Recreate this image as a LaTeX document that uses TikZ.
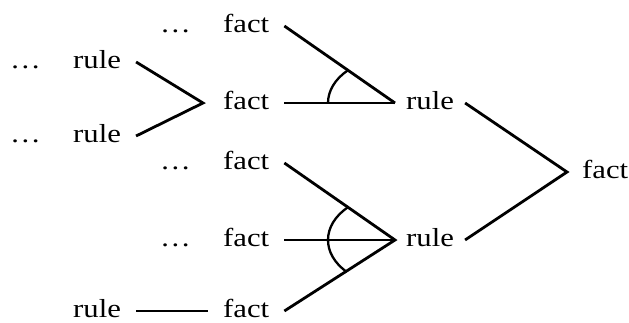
\documentclass[tikz,border=0pt]{standalone}
\usepackage{fontspec}
\newfontfamily\timesfont{Liberation Serif}
\newcommand\wtxt[1]{\scalebox{1.18}[1]{#1}}
\begin{document}
\begin{tikzpicture}[x=1pt,y=1pt,
  lbl/.style={anchor=base west, inner xsep=15pt, inner ysep=0pt,
    text height=14pt, text depth=0pt, font=\timesfont\fontsize{26}{30}\selectfont},
  lblr/.style={lbl, inner xsep=11pt},
  dots/.style={lbl, inner xsep=0pt},
  wire/.style={line width=2.8pt, line join=miter},
  hwire/.style={line width=2.3pt},
  andarc/.style={line width=2.3pt}]
\useasboundingbox (0,0) rectangle (629,323);

% dots
\node[dots] (d1) at (10,254) {\wtxt{…}};
\node[dots] (d2) at (10,180) {\wtxt{…}};
\node[dots] (d3) at (160,290) {\wtxt{…}};
\node[dots] (d4) at (160,153) {\wtxt{…}};
\node[dots] (d5) at (160,76) {\wtxt{…}};

% left rules
\node[lbl] (rule1) at (58,254) {\wtxt{rule}};
\node[lbl] (rule2) at (58,180) {\wtxt{rule}};
\node[lbl] (rule3) at (58,5) {\wtxt{rule}};

% facts column
\node[lbl] (fact1) at (208,290) {\wtxt{fact}};
\node[lbl] (fact2) at (208,213) {\wtxt{fact}};
\node[lbl] (fact3) at (208,153) {\wtxt{fact}};
\node[lbl] (fact4) at (208,76) {\wtxt{fact}};
\node[lbl] (fact5) at (208,5) {\wtxt{fact}};

% right rules
\node[lblr] (ruleA) at (395,213) {\wtxt{rule}};
\node[lblr] (ruleB) at (395,76) {\wtxt{rule}};

% final fact
\node[lbl] (factF) at (567,144) {\wtxt{fact}};

% connectors
\draw[wire] (rule1.east) -- ([xshift=-5pt]fact2.west) -- (rule2.east);
\draw[wire] (fact1.east) -- (ruleA.west);
\draw[hwire] (fact2.east) -- (ruleA.west);
\draw[wire] (fact3.east) -- (ruleB.west) -- (fact5.east);
\draw[hwire] (fact4.east) -- (ruleB.west);
\draw[wire] (ruleA.east) -- (factF.west) -- (ruleB.east);
\draw[hwire] (rule3.east) -- (fact5.west);

% conjunction arcs
\draw[andarc] ([shift={(135:67pt and 46pt)}]ruleA.west)
  arc[start angle=135, end angle=180, x radius=67pt, y radius=46pt];
\draw[andarc] ([shift={(135:67pt and 46pt)}]ruleB.west)
  arc[start angle=135, end angle=224, x radius=67pt, y radius=46pt];
\end{tikzpicture}
\end{document}
